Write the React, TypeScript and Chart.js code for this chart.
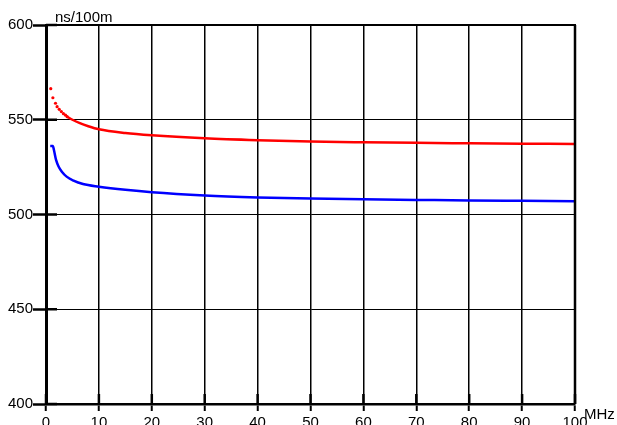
import React, { useEffect, useRef } from "react";
import { Chart, registerables } from "chart.js";

Chart.register(...registerables);

// Frequency (MHz) and delay (ns/100m)
const redDotFreq = [0.9, 1.3, 1.8, 2.1, 2.5, 2.9, 3.3, 3.7, 4.0];
const redDotDelay = [566.4, 561.6, 558.7, 556.9, 555.5, 554.3, 553.2, 552.4, 551.6];

const redLineFreq = [4.0, 5, 6.4, 8, 10, 15, 20, 30, 40, 50, 60, 70, 80, 90, 100];
const redLineDelay = [551.6, 550.0, 548.2, 546.6, 545.0, 543.0, 541.8, 540.2, 539.2, 538.5, 538.1, 537.8, 537.6, 537.4, 537.2];

const blueFreq = [0.8, 1.3, 1.5, 1.9, 2.4, 3.0, 3.9, 5.2, 7.0, 10, 15, 20, 30, 40, 50, 60, 70, 80, 90, 100];
const blueDelay = [536.1, 536.1, 534.0, 528.8, 525.2, 522.6, 520.0, 517.9, 516.1, 514.7, 513.0, 511.7, 510.0, 509.0, 508.4, 508.0, 507.7, 507.4, 507.2, 507.0];

const xTicks = [0, 10, 20, 30, 40, 50, 60, 70, 80, 90, 100];
const yTicks = [400, 450, 500, 550, 600];

const yUnit = "ns/100m";
const xUnit = "MHz";

const FONT = "'Liberation Sans', Arial, sans-serif";

const pts = (xs: number[], ys: number[]) => xs.map((x, i) => ({ x, y: ys[i] }));

const decorPlugin = {
  id: "decor",
  afterDraw(chart: any) {
    const { ctx, chartArea } = chart;
    const { left, right, top, bottom } = chartArea;
    const xs = chart.scales.x;
    const ys = chart.scales.y;
    ctx.save();
    ctx.strokeStyle = "#000";
    // top & right frame
    ctx.lineWidth = 2;
    ctx.beginPath();
    ctx.moveTo(left, top);
    ctx.lineTo(right + 1, top);
    ctx.stroke();
    ctx.lineWidth = 2.5;
    ctx.beginPath();
    ctx.moveTo(right, top);
    ctx.lineTo(right, bottom);
    ctx.stroke();
    // inner ticks
    ctx.lineWidth = 2.5;
    yTicks.forEach((v) => {
      const y = ys.getPixelForValue(v);
      ctx.beginPath();
      ctx.moveTo(left, y);
      ctx.lineTo(left + 11, y);
      ctx.stroke();
    });
    xTicks.forEach((v) => {
      const x = xs.getPixelForValue(v);
      ctx.beginPath();
      ctx.moveTo(x, bottom);
      ctx.lineTo(x, bottom - 10);
      ctx.stroke();
    });
    // unit labels
    ctx.fillStyle = "#000";
    ctx.textBaseline = "alphabetic";
    ctx.textAlign = "left";
    ctx.font = `15px ${FONT}`;
    ctx.fillText(yUnit, left + 9, top - 3);
    ctx.fillText(xUnit, right + 9, bottom + 14.5);
    ctx.restore();
  },
};

export default function App() {
  const ref = useRef<HTMLCanvasElement | null>(null);

  useEffect(() => {
    document.body.style.margin = "0";
    const canvas = ref.current!;
    const chart = new Chart(canvas, {
      type: "scatter",
      data: {
        datasets: [
          {
            data: pts(blueFreq, blueDelay),
            showLine: true,
            borderColor: "#0000ff",
            borderWidth: 2.5,
            pointRadius: 0,
            cubicInterpolationMode: "monotone",
          },
          {
            data: pts(redLineFreq, redLineDelay),
            showLine: true,
            borderColor: "#ff0000",
            borderWidth: 2.5,
            pointRadius: 0,
            cubicInterpolationMode: "monotone",
          },
          {
            data: pts(redDotFreq, redDotDelay),
            showLine: false,
            backgroundColor: "#ff0000",
            borderWidth: 0,
            pointRadius: 1.6,
          },
        ],
      },
      options: {
        responsive: false,
        animation: false,
        devicePixelRatio: 1,
        layout: { padding: { left: 0, top: 25, right: 42, bottom: 0 } },
        plugins: {
          legend: { display: false },
          tooltip: { enabled: false },
          title: { display: false },
        },
        scales: {
          x: {
            type: "linear",
            min: 0,
            max: 100,
            afterFit: (s: any) => {
              s.height = 21;
            },
            afterBuildTicks: (s: any) => {
              s.ticks = xTicks.map((v) => ({ value: v }));
            },
            grid: {
              color: "#000",
              lineWidth: 1.5,
              drawTicks: true,
              tickLength: 7,
              tickWidth: 2,
              tickColor: "#000",
            },
            border: { display: true, color: "#000", width: 2.5 },
            ticks: {
              autoSkip: false,
              maxRotation: 0,
              padding: 3,
              color: "#000",
              font: { family: FONT, size: 15 },
            },
          },
          y: {
            type: "linear",
            min: 400,
            max: 600,
            afterFit: (s: any) => {
              s.width = 46;
            },
            afterBuildTicks: (s: any) => {
              s.ticks = yTicks.map((v) => ({ value: v }));
            },
            grid: {
              color: "#000",
              lineWidth: 1,
              drawTicks: true,
              tickLength: 13,
              tickWidth: 2.5,
              tickColor: "#000",
            },
            border: { display: true, color: "#000", width: 3 },
            ticks: {
              padding: 0,
              color: "#000",
              font: { family: FONT, size: 15 },
            },
          },
        },
      },
      plugins: [decorPlugin],
    });
    return () => chart.destroy();
  }, []);

  return (
    <div style={{ position: "absolute", left: 0, top: 0, width: 617, height: 425 }}>
      <canvas ref={ref} width={617} height={425} style={{ width: 617, height: 425, display: "block" }} />
    </div>
  );
}
